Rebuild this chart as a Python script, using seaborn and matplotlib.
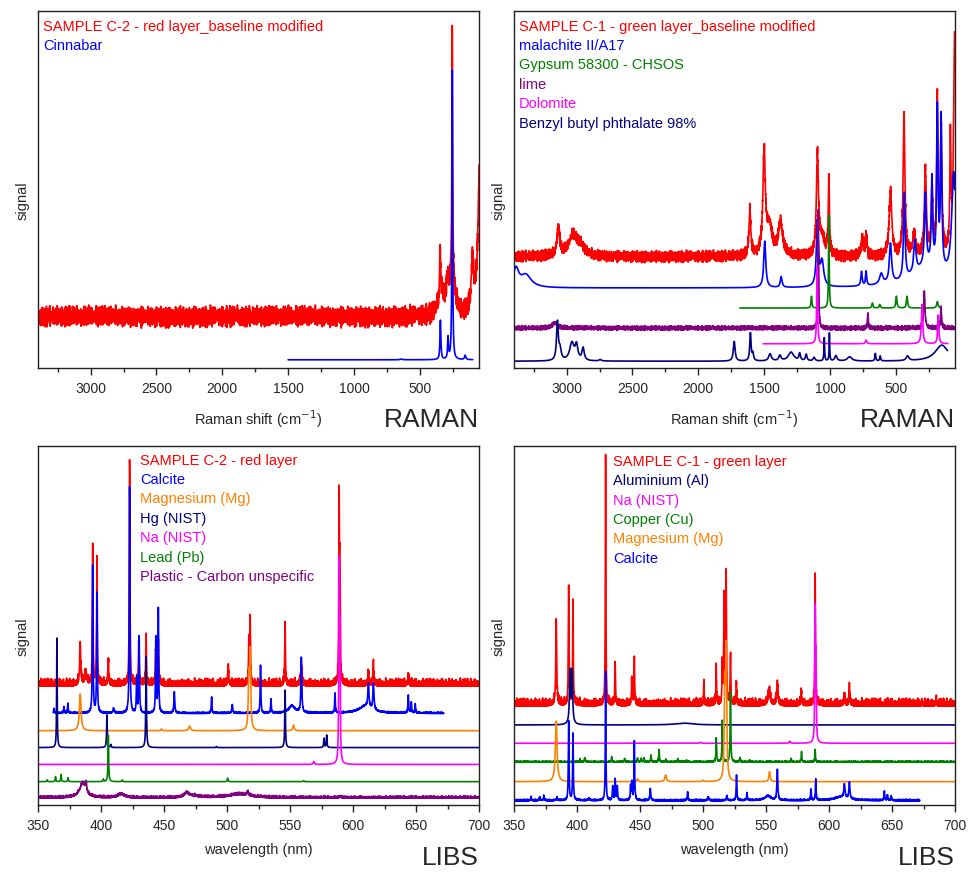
import numpy as np
import matplotlib
matplotlib.use("Agg")
import matplotlib.pyplot as plt
from matplotlib.ticker import MultipleLocator
import seaborn as sns

# values
# every spectrum is a list of peaks: (position, height above its baseline, half width)
# baselines are in percent of the panel height

# --- RAMAN, sample C-2 (red layer) ---
raman_c2_labels = ['SAMPLE C-2 - red layer_baseline modified', 'Cinnabar']
raman_c2_colors = ['#ff0000', '#0000ff']
raman_c2_offsets = [14.4, 2.3]
raman_c2_ranges = [(50, 3400), (98, 1500)]
raman_c2_noise = [3.6, 0.0]
raman_c2_sample = [(253, 70, 3), (255, 12, 22), (345, 14, 5), (330, 5, 30),
                   (290, 6, 10), (100, 14, 10), (40, 60, 15)]
raman_c2_cinnabar = [(343, 11, 4), (285, 6, 4), (253, 81, 3), (155, 1.2, 6), (640, 0.2, 10)]

# --- RAMAN, sample C-1 (green layer) ---
raman_c1_labels = ['SAMPLE C-1 - green layer_baseline modified', 'malachite II/A17',
                   'Gypsum 58300 - CHSOS', 'lime', 'Dolomite', 'Benzyl butyl phthalate 98%']
raman_c1_colors = ['#ff0000', '#0000ff', '#008000', '#800080', '#ff00ff', '#000080']
raman_c1_offsets = [31.2, 22.4, 16.8, 11.2, 6.8, 1.9]
raman_c1_ranges = [(50, 3400), (52, 3400), (158, 1684), (52, 3400), (103, 1507), (107, 3400)]
raman_c1_noise = [2.0, 0.0, 0.0, 0.8, 0.0, 0.0]
raman_c1_sample = [(3063, 8, 12), (2950, 6, 40), (2890, 2, 30), (1608, 13, 8), (1500, 28, 11),
                   (1460, 8, 25), (1375, 9, 20), (1095, 28, 9), (1008, 22, 5), (1060, 5, 25),
                   (755, 5, 10), (725, 6, 7), (540, 18, 12), (437, 40, 8), (360, 6, 12),
                   (275, 24, 9), (225, 18, 7), (184, 44, 6), (155, 34, 7), (85, 30, 5),
                   (52, 62, 10)]
raman_c1_malachite = [(3385, 5, 25), (3310, 3.5, 50), (1495, 13, 9), (1370, 3, 8),
                      (1095, 18, 9), (1060, 7, 15), (760, 4, 6), (725, 4, 5), (610, 3, 15),
                      (540, 11, 10), (435, 24, 7), (355, 9, 10), (275, 20, 8), (225, 24, 6),
                      (184, 44, 6), (155, 42, 6), (60, 30, 18), (250, 6, 150)]
raman_c1_gypsum = [(1140, 3.3, 4), (1008, 26, 3), (677, 1.4, 5), (621, 1, 5),
                   (495, 3.3, 5), (414, 3.3, 5), (184, 1.8, 6)]
raman_c1_lime = [(1088, 33, 3), (712, 4, 4), (283, 10.4, 6), (156, 5.5, 5), (3090, 1.5, 20)]
raman_c1_dolomite = [(1097, 21.6, 4), (725, 1, 6), (300, 11, 6), (177, 8, 5)]
raman_c1_phthalate = [(3070, 10.7, 8), (3050, 3, 10), (2960, 5, 20), (2925, 4, 12),
                      (2875, 3.5, 10), (2745, 0.4, 10), (1727, 5.5, 8), (1604, 7.8, 6),
                      (1585, 2, 6), (1455, 2, 12), (1380, 1.5, 10), (1295, 2.5, 25),
                      (1230, 2, 7), (1180, 1.8, 7), (1120, 1, 8), (1043, 6.5, 3),
                      (1004, 7.8, 2.5), (955, 1.5, 10), (850, 1.2, 20), (655, 2.1, 4),
                      (618, 1.4, 4), (410, 1.3, 12), (150, 4.5, 60)]

# --- LIBS, sample C-2 (red layer) ---
libs_c2_labels = ['SAMPLE C-2 - red layer', 'Calcite', 'Magnesium (Mg)', 'Hg (NIST)',
                  'Na (NIST)', 'Lead (Pb)', 'Plastic - Carbon unspecific']
libs_c2_colors = ['#ff0000', '#0000ff', '#ff8000', '#000080', '#ff00ff', '#008000', '#800080']
libs_c2_offsets = [33.1, 25.5, 20.7, 16.0, 11.3, 6.5, 1.9]
libs_c2_ranges = [(350, 700), (362, 672), (350, 700), (350, 700), (350, 700), (350, 700), (350, 700)]
libs_c2_noise = [1.6, 0.3, 0.0, 0.0, 0.0, 0.0, 0.5]
libs_c2_sample = [(383.5, 12, 0.5), (393.4, 38.5, 0.3), (396.8, 36, 0.3), (405.8, 7, 0.4),
                  (422.7, 63, 0.3), (430.0, 12, 0.4), (435.8, 14.5, 0.3), (443.5, 10, 0.4),
                  (445.5, 12, 0.4), (501.0, 6, 0.4), (517.3, 12, 0.3), (518.4, 18, 0.3),
                  (546.1, 18, 0.3), (559.0, 6, 0.5), (589.0, 49, 0.3), (589.6, 30, 0.3),
                  (612.2, 4, 0.4), (616.2, 5.5, 0.4), (643.8, 3, 0.4), (388.0, 3, 1.0)]
libs_c2_calcite = [(393.4, 41, 0.3), (396.8, 33.5, 0.3), (422.7, 63, 0.3), (430.3, 21, 0.3),
                   (428.3, 10, 0.3), (443.5, 21, 0.3), (445.5, 29, 0.3), (458.2, 5.8, 0.4),
                   (487.8, 4.6, 0.3), (504.2, 2.4, 0.4), (526.6, 13.3, 0.3), (534.9, 4, 0.3),
                   (551.5, 2, 3), (559.0, 15.4, 0.4), (585.7, 5.6, 0.3), (612.2, 6.6, 0.5),
                   (616.2, 7.4, 0.5), (610.0, 2, 6), (643.9, 5, 0.3), (646.3, 3, 0.3),
                   (649.4, 2.5, 0.3), (362.7, 1.4, 0.3), (370.6, 1.8, 0.3), (373.7, 2.8, 0.3),
                   (410.0, 1.5, 0.5)]
libs_c2_magnesium = [(383.5, 10.2, 0.8), (470.3, 1.3, 0.8), (517.3, 14, 0.5),
                     (518.4, 21, 0.5), (552.8, 1.6, 0.6), (448.0, 0.5, 0.5)]
libs_c2_mercury = [(365.0, 30.5, 0.25), (404.7, 9.1, 0.3), (407.8, 0.8, 0.3), (435.8, 25.3, 0.3),
                   (546.1, 16, 0.3), (576.96, 2.6, 0.3), (579.07, 3.5, 0.3), (491.6, 0.3, 0.3)]
libs_c2_sodium = [(589.0, 52, 0.3), (589.6, 30, 0.3), (568.8, 0.8, 0.5)]
libs_c2_lead = [(405.8, 13, 0.3), (368.3, 2, 0.3), (363.9, 1.4, 0.3), (373.9, 1.1, 0.3),
                (357.3, 0.5, 0.3), (500.5, 1, 0.3), (401.9, 0.7, 0.3), (416.8, 0.5, 0.3),
                (560.9, 0.3, 0.3)]
libs_c2_plastic = [(385.5, 4, 3), (388.2, 2.5, 0.5), (416.0, 1.0, 3), (467.8, 1.2, 2),
                   (473.0, 0.5, 5), (516.5, 1.2, 0.6), (510.0, 1.0, 10), (590.0, 0.3, 1)]

# --- LIBS, sample C-1 (green layer) ---
libs_c1_labels = ['SAMPLE C-1 - green layer', 'Aluminium (Al)', 'Na (NIST)', 'Copper (Cu)',
                  'Magnesium (Mg)', 'Calcite']
libs_c1_colors = ['#ff0000', '#000080', '#ff00ff', '#008000', '#ff8000', '#0000ff']
libs_c1_offsets = [27.6, 22.3, 17.2, 11.9, 6.5, 1.2]
libs_c1_ranges = [(350, 700), (350, 700), (350, 700), (350, 700), (350, 700), (350, 672)]
libs_c1_noise = [1.6, 0.0, 0.0, 0.3, 0.0, 0.3]
libs_c1_sample = [(383.5, 24, 0.4), (393.4, 32.5, 0.3), (396.8, 29.5, 0.3), (422.7, 70, 0.25),
                  (430.3, 12.3, 0.3), (443.5, 8, 0.3), (445.5, 12.8, 0.3), (500.7, 5.8, 0.3),
                  (510.5, 10.2, 0.3), (515.3, 10, 0.3), (516.7, 29, 0.3), (518.4, 36, 0.3),
                  (521.8, 14, 0.3), (526.5, 6, 0.3), (552.5, 4, 1), (559.0, 7, 0.5),
                  (578.0, 3.5, 0.4), (589.0, 36, 0.3), (612.2, 3, 0.4), (616.2, 4.6, 0.4),
                  (685.0, 1, 0.3), (674.0, 0.4, 0.3)]
libs_c1_aluminium = [(394.4, 13.5, 0.45), (396.15, 13.5, 0.45), (395.3, 2, 1.5), (485.0, 0.5, 8)]
libs_c1_sodium = [(589.0, 34.8, 0.3), (589.6, 20, 0.3), (568.8, 0.6, 0.5), (498.0, 0.3, 0.5)]
libs_c1_copper = [(510.55, 6.7, 0.3), (515.3, 11.3, 0.3), (521.8, 19.7, 0.3), (578.2, 2.7, 0.3),
                  (570.0, 0.8, 0.3), (589.0, 3.4, 0.3), (465.1, 3.6, 0.3), (458.7, 2, 0.3),
                  (450.9, 1.1, 0.3), (453.1, 1, 0.3), (406.3, 1.1, 0.4), (402.3, 0.6, 0.3),
                  (427.5, 1.4, 0.3), (437.8, 1.1, 0.3), (448.0, 1, 0.3), (470.5, 0.8, 0.3),
                  (480.0, 0.8, 0.3), (529.3, 1.3, 0.3), (487.0, 0.5, 0.3), (537.0, 0.4, 0.3)]
libs_c1_magnesium = [(383.5, 16.9, 0.8), (470.3, 1.9, 0.7), (517.3, 25, 0.5), (518.4, 35, 0.5),
                     (552.8, 2.8, 0.6), (448.0, 0.8, 0.5), (500.0, 0.4, 0.5)]
libs_c1_calcite = [(393.4, 22, 0.3), (396.8, 18.7, 0.3), (422.7, 36, 0.25), (430.3, 6, 0.3),
                   (428.3, 4, 0.3), (432.0, 4, 0.3), (442.5, 4, 0.3), (443.5, 5, 0.3),
                   (445.5, 16.4, 0.3), (458.2, 3.3, 0.4), (487.8, 2.5, 0.3), (504.2, 1, 0.4),
                   (526.6, 7, 0.3), (534.9, 2.2, 0.3), (551.5, 1.2, 3), (559.0, 8.6, 0.4),
                   (585.7, 3.2, 0.3), (589.5, 6, 0.3), (612.2, 3.8, 0.5), (616.2, 4.4, 0.5),
                   (610.0, 1, 6), (643.9, 2.7, 0.3), (646.3, 1.5, 0.3), (649.4, 1.2, 0.3),
                   (363.5, 1, 0.3), (370.5, 1, 0.3), (373.7, 1.4, 0.3), (384.0, 0.8, 0.4),
                   (409.5, 0.7, 0.5), (519.0, 1.2, 0.4)]

# hand typed jitter used as measurement noise texture
jitter_a = [0.3, -0.8, 0.5, 0.1, -0.4, 0.9, -0.2, -0.7, 0.6, 0.0, -0.5, 0.8, -0.9, 0.2, 0.4,
            -0.1, -0.6, 0.7, -0.3, 0.5, -0.8, 0.1, 0.9, -0.4, -0.2, 0.6, -0.7, 0.3, 0.0,
            -0.9, 0.8, -0.1, 0.4, -0.6, 0.2, 0.7, -0.5]
jitter_b = [-0.2, 0.6, -0.9, 0.4, 0.1, -0.5, 0.8, -0.3, 0.0, 0.7, -0.6, 0.3, -0.1, 0.9, -0.8,
            0.2, 0.5, -0.4, -0.7, 0.6, 0.1, -0.2, 0.8, -0.9, 0.4, -0.3, 0.0, 0.7, -0.5, 0.2,
            -0.8, 0.9, -0.1, 0.3, -0.6, 0.5, -0.4, 0.1, 0.8, -0.7, 0.2]


def build_spectrum(x, peaks, offset, noise, spiky):
    y = np.full_like(x, offset, dtype=float)
    for pos, h, w in peaks:
        y += h / (1 + ((x - pos) / w) ** 2)
    if noise > 0:
        i = np.arange(len(x))
        n = (np.array(jitter_a)[i % len(jitter_a)] + np.array(jitter_b)[i % len(jitter_b)]) / 2
        if spiky:
            n = np.clip(n, 0, None) * 1.6
        y += n * noise
    return y


def draw_panel(ax, grid, spectra, offsets, ranges, noise, colors, spiky):
    for peaks, off, (lo, hi), nz, col in zip(spectra, offsets, ranges, noise, colors):
        x = grid[(grid >= lo) & (grid <= hi)]
        y = build_spectrum(x, peaks, off, nz, spiky)
        sns.lineplot(x=x, y=y, ax=ax, color=col, linewidth=1.2, estimator=None, sort=False)


def legend_text(ax, labels, colors, x0, top_px, height_px):
    for k, (lab, col) in enumerate(zip(labels, colors)):
        y = 1 - (top_px + k * 19.4) / height_px
        ax.text(x0, y, lab, color=col, fontsize=10.5, transform=ax.transAxes,
                ha='left', va='center')


sns.set_style('white')
plt.rcParams['font.family'] = ['Liberation Sans', 'DejaVu Sans']

W, H = 972, 873
fig = plt.figure(figsize=(W / 100, H / 100), dpi=100)

def px_axes(left, top, right, bottom):
    return fig.add_axes([left / W, (H - bottom) / H, (right - left) / W, (bottom - top) / H])

ax_tl = px_axes(38, 11, 479, 368)
ax_tr = px_axes(514, 11, 955, 368)
ax_bl = px_axes(38, 446, 479, 805)
ax_br = px_axes(514, 446, 955, 805)

raman_grid = np.arange(50, 3401, 1.0)
libs_grid = np.round(np.arange(350, 700.001, 0.1), 2)

draw_panel(ax_tl, raman_grid, [raman_c2_sample, raman_c2_cinnabar], raman_c2_offsets,
           raman_c2_ranges, raman_c2_noise, raman_c2_colors, False)
draw_panel(ax_tr, raman_grid, [raman_c1_sample, raman_c1_malachite, raman_c1_gypsum,
                               raman_c1_lime, raman_c1_dolomite, raman_c1_phthalate],
           raman_c1_offsets, raman_c1_ranges, raman_c1_noise, raman_c1_colors, False)
draw_panel(ax_bl, libs_grid, [libs_c2_sample, libs_c2_calcite, libs_c2_magnesium,
                              libs_c2_mercury, libs_c2_sodium, libs_c2_lead, libs_c2_plastic],
           libs_c2_offsets, libs_c2_ranges, libs_c2_noise, libs_c2_colors, True)
draw_panel(ax_br, libs_grid, [libs_c1_sample, libs_c1_aluminium, libs_c1_sodium,
                              libs_c1_copper, libs_c1_magnesium, libs_c1_calcite],
           libs_c1_offsets, libs_c1_ranges, libs_c1_noise, libs_c1_colors, True)

for ax in [ax_tl, ax_tr, ax_bl, ax_br]:
    ax.set_ylim(0, 100)
    ax.set_yticks([])
    for sp in ax.spines.values():
        sp.set_color('#222222')
        sp.set_linewidth(1.0)
    ax.tick_params(axis='x', which='major', direction='out', length=5, width=1,
                   pad=5, labelsize=10, bottom=True, color='#222222')
    ax.tick_params(axis='x', which='minor', direction='out', length=3, width=1,
                   bottom=True, color='#222222')
    ax.set_ylabel('signal', fontsize=10.5)
    ax.yaxis.set_label_coords(-0.018, 0.47)

for ax in [ax_tl, ax_tr]:
    ax.set_xlim(3400, 50)
    ax.xaxis.set_major_locator(MultipleLocator(500))
    ax.xaxis.set_minor_locator(MultipleLocator(250))
    ax.set_xlabel('Raman shift (cm$^{-1}$)', fontsize=10.5)
    ax.xaxis.set_label_coords(0.5, -0.112)
    ax.text(1.0, -0.146, 'RAMAN', transform=ax.transAxes, ha='right', va='center', fontsize=19)

for ax in [ax_bl, ax_br]:
    ax.set_xlim(350, 700)
    ax.xaxis.set_major_locator(MultipleLocator(50))
    ax.xaxis.set_minor_locator(MultipleLocator(25))
    ax.set_xlabel('wavelength (nm)', fontsize=10.5)
    ax.xaxis.set_label_coords(0.5, -0.107)
    ax.text(1.0, -0.147, 'LIBS', transform=ax.transAxes, ha='right', va='center', fontsize=19)

legend_text(ax_tl, raman_c2_labels, raman_c2_colors, 0.011, 15.7, 357)
legend_text(ax_tr, raman_c1_labels, raman_c1_colors, 0.011, 15.7, 357)
legend_text(ax_bl, libs_c2_labels, libs_c2_colors, 0.231, 14.7, 359)
legend_text(ax_br, libs_c1_labels, libs_c1_colors, 0.2245, 15.7, 359)

fig.savefig('out.png', dpi=100)
plt.close()
